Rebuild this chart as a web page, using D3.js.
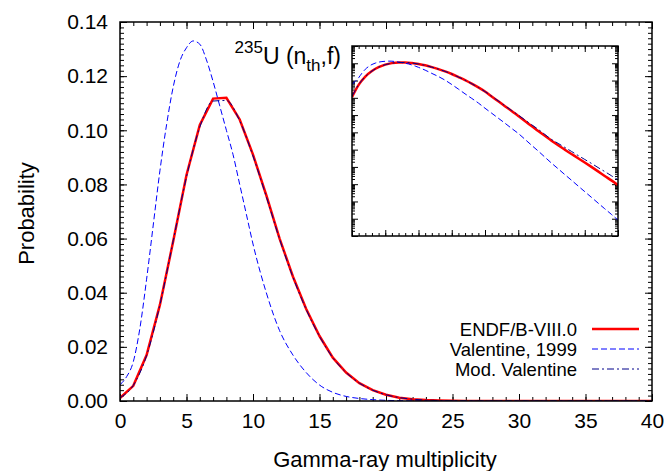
<!DOCTYPE html>
<html>
<head>
<meta charset="utf-8">
<script src="https://cdn.jsdelivr.net/npm/d3@7"></script>
<style>
  body { margin: 0; background: #fff; }
  text { font-family: "Liberation Sans", Arial, sans-serif; fill: #000; }
  .axis path { display: none; }
  .axis line { stroke: #000; stroke-width: 1; }
</style>
</head>
<body>
<div id="chart"></div>
<script>
// gamma-ray multiplicity (integer points)
var multiplicity = [0,1,2,3,4,5,6,7,8,9,10,11,12,13,14,15,16,17,18,19,20,
  21,22,23,24,25,26,27,28,29,30,31,32,33,34,35,36,37,38,39,40];

var endf = [0.0011,0.0056,0.017,0.0355,0.059,0.0835,0.102,0.1117,0.112,0.104,0.091,
  0.076,0.060,0.046,0.034,0.024,0.016,0.0105,0.0066,0.0040,0.0023,
  1.2e-3,6.3e-4,3.3e-4,1.74e-4,8.9e-5,4.6e-5,2.3e-5,1.2e-5,6.3e-6,3.3e-6,
  1.8e-6,1.0e-6,5.6e-7,3.2e-7,1.8e-7,1.0e-7,5.5e-8,3.0e-8,1.66e-8,8.9e-9];

var modValentine = [0.0012,0.0058,0.0168,0.0355,0.0592,0.0828,0.1012,0.1108,0.1110,0.1035,0.0905,
  0.0755,0.0598,0.0458,0.0338,0.0239,0.0160,0.0105,0.0066,0.0040,0.0023,
  1.25e-3,6.6e-4,3.5e-4,1.85e-4,1.0e-4,5.3e-5,2.8e-5,1.5e-5,7.6e-6,3.9e-6,
  2.3e-6,1.35e-6,7.9e-7,4.6e-7,2.7e-7,1.6e-7,9.2e-8,5.4e-8,3.1e-8,1.8e-8];

var valentineX = [0,0.5,1,1.5,2,2.5,3,3.5,4,4.5,5,5.5,6,6.5,7,7.5,8,8.5,9,9.5,10,
  11,12,13,14,15,16,17,18,19,20,21,22,23,24,25,26,27,28,29,30,
  31,32,33,34,35,36,37,38,39,40];
var valentineP = [0.006,0.009,0.0145,0.027,0.045,0.065,0.085,0.102,0.116,0.1255,0.1305,0.1330,0.1318,0.126,0.118,0.109,0.100,0.091,0.080,0.069,0.058,
  0.040,0.026,0.017,0.0105,0.0059,0.0032,0.0017,9.3e-4,5.0e-4,2.5e-4,
  1.29e-4,6.6e-5,3.4e-5,1.7e-5,8.7e-6,4.0e-6,1.8e-6,8.3e-7,3.7e-7,1.66e-7,
  7.8e-8,3.6e-8,1.7e-8,7.9e-9,3.7e-9,1.74e-9,8.1e-10,3.8e-10,1.8e-10,8.3e-11];

var legendLabels = ["ENDF/B-VIII.0", "Valentine, 1999", "Mod. Valentine"];

var svgWidth = 670;
var svgHeight = 471;
var margin = {top: 22, right: 18, bottom: 70, left: 120};
var width = svgWidth - margin.left - margin.right;
var height = svgHeight - margin.top - margin.bottom;

var svg = d3.select("#chart").append("svg")
  .attr("width", svgWidth)
  .attr("height", svgHeight);

var chartGroup = svg.append("g")
  .attr("transform", `translate(${margin.left}, ${margin.top})`);

var xScale = d3.scaleLinear().domain([0, 40]).range([0, width]);
var yScale = d3.scaleLinear().domain([0, 0.14]).range([height, 0]);

svg.append("clipPath").attr("id", "mainClip")
  .append("rect").attr("width", width).attr("height", height);

// series styles
var series = [
  {name: legendLabels[0], xs: multiplicity, ys: endf, color: "#ff0000", w: 2.5, dash: null, curve: d3.curveLinear},
  {name: legendLabels[1], xs: valentineX, ys: valentineP, color: "#0000ff", w: 1, dash: "6,3", curve: d3.curveMonotoneX},
  {name: legendLabels[2], xs: multiplicity, ys: modValentine, color: "#00008b", w: 1, dash: "7,3,2,3", curve: d3.curveMonotoneX}
];

// minor + major ticks, all inward
function ticks(g, axis, vals, size) {
  g.append("g").attr("class", "axis").call(axis.tickValues(vals).tickSize(-size).tickFormat(""));
}

var xMinor = d3.range(0, 41, 1);
var xMajor = d3.range(0, 41, 5);
var yMinor = d3.range(0, 71, 1).map(d => d * 0.002);
var yMajor = d3.range(0, 8, 1).map(d => d * 0.02);

ticks(chartGroup.append("g").attr("transform", `translate(0, ${height})`), d3.axisBottom(xScale), xMinor, 4);
ticks(chartGroup.append("g"), d3.axisTop(xScale), xMinor, 4);
ticks(chartGroup.append("g"), d3.axisLeft(yScale), yMinor, 4);
ticks(chartGroup.append("g").attr("transform", `translate(${width}, 0)`), d3.axisRight(yScale), yMinor, 4);
ticks(chartGroup.append("g"), d3.axisTop(xScale), xMajor, 7);
ticks(chartGroup.append("g").attr("transform", `translate(${width}, 0)`), d3.axisRight(yScale), yMajor, 7);

chartGroup.append("g").attr("class", "axis")
  .attr("transform", `translate(0, ${height})`)
  .call(d3.axisBottom(xScale).tickValues(xMajor).tickSize(-7).tickPadding(12))
  .selectAll("text").style("font-size", "21px");

chartGroup.append("g").attr("class", "axis")
  .call(d3.axisLeft(yScale).tickValues(yMajor).tickSize(-7).tickPadding(12).tickFormat(d3.format(".2f")))
  .selectAll("text").style("font-size", "21px");

// curves
var plotArea = chartGroup.append("g").attr("clip-path", "url(#mainClip)");
series.forEach(function(s) {
  var pts = s.xs.map((x, i) => [x, s.ys[i]]);
  plotArea.append("path")
    .datum(pts)
    .attr("fill", "none")
    .attr("stroke", s.color)
    .attr("stroke-width", s.w)
    .attr("stroke-dasharray", s.dash)
    .attr("d", d3.line().x(d => xScale(d[0])).y(d => yScale(d[1])).curve(s.curve));
});

chartGroup.append("rect")
  .attr("width", width).attr("height", height)
  .attr("fill", "none").attr("stroke", "#000").attr("stroke-width", 1.5);

// axis titles
chartGroup.append("text")
  .attr("x", width / 2 - 1).attr("y", height + 66)
  .attr("text-anchor", "middle").style("font-size", "22px")
  .text("Gamma-ray multiplicity");

chartGroup.append("text")
  .attr("transform", `translate(-86, ${height / 2 + 2})rotate(-90)`)
  .attr("text-anchor", "middle").style("font-size", "22px")
  .text("Probability");

// title
var title = chartGroup.append("text")
  .attr("x", 221).attr("y", 42)
  .attr("text-anchor", "end")
  .style("font-size", "23px");
title.append("tspan").attr("dy", -11).style("font-size", "17px").text("235");
title.append("tspan").attr("dy", 11).text("U (n");
title.append("tspan").attr("dy", 7).style("font-size", "17px").text("th");
title.append("tspan").attr("dy", -7).text(",f)");

// legend
var legend = chartGroup.append("g").attr("transform", `translate(${width - 60}, ${height - 72})`);
series.forEach(function(s, i) {
  var row = legend.append("g").attr("transform", `translate(0, ${i * 20})`);
  row.append("text").attr("x", -15).attr("y", 6.5)
    .attr("text-anchor", "end").style("font-size", "18.5px").text(s.name);
  row.append("line").attr("x1", 0).attr("x2", 47)
    .attr("stroke", s.color).attr("stroke-width", s.w)
    .attr("stroke-dasharray", s.dash);
});

// inset, log scale
var inset = {left: 232, top: 24, width: 266, height: 190};
var insetGroup = chartGroup.append("g")
  .attr("transform", `translate(${inset.left}, ${inset.top})`);

insetGroup.append("rect").attr("width", inset.width).attr("height", inset.height).attr("fill", "#fff");

var xInset = d3.scaleLinear().domain([0, 40]).range([0, inset.width]);
var yInset = d3.scaleLog().domain([1e-11, 1]).range([inset.height, 0]);

svg.append("clipPath").attr("id", "insetClip")
  .append("rect").attr("width", inset.width).attr("height", inset.height);

var decades = d3.range(-11, 1).map(e => Math.pow(10, e));
var logMinor = [];
decades.slice(0, -1).forEach(function(d) {
  for (var k = 2; k < 10; k++) logMinor.push(d * k);
});

ticks(insetGroup.append("g").attr("transform", `translate(0, ${inset.height})`), d3.axisBottom(xInset), xMinor, 3);
ticks(insetGroup.append("g"), d3.axisTop(xInset), xMinor, 3);
ticks(insetGroup.append("g").attr("transform", `translate(0, ${inset.height})`), d3.axisBottom(xInset), xMajor, 6);
ticks(insetGroup.append("g"), d3.axisTop(xInset), xMajor, 6);
ticks(insetGroup.append("g"), d3.axisLeft(yInset), logMinor, 3);
ticks(insetGroup.append("g").attr("transform", `translate(${inset.width}, 0)`), d3.axisRight(yInset), logMinor, 3);
ticks(insetGroup.append("g"), d3.axisLeft(yInset), decades, 6);
ticks(insetGroup.append("g").attr("transform", `translate(${inset.width}, 0)`), d3.axisRight(yInset), decades, 6);

var insetArea = insetGroup.append("g").attr("clip-path", "url(#insetClip)");
series.forEach(function(s) {
  var pts = s.xs.map((x, i) => [x, s.ys[i]]);
  insetArea.append("path")
    .datum(pts)
    .attr("fill", "none")
    .attr("stroke", s.color)
    .attr("stroke-width", s.w)
    .attr("stroke-dasharray", s.dash)
    .attr("d", d3.line().x(d => xInset(d[0])).y(d => yInset(d[1])).curve(d3.curveMonotoneX));
});

insetGroup.append("rect")
  .attr("width", inset.width).attr("height", inset.height)
  .attr("fill", "none").attr("stroke", "#000").attr("stroke-width", 1.5);
</script>
</body>
</html>
